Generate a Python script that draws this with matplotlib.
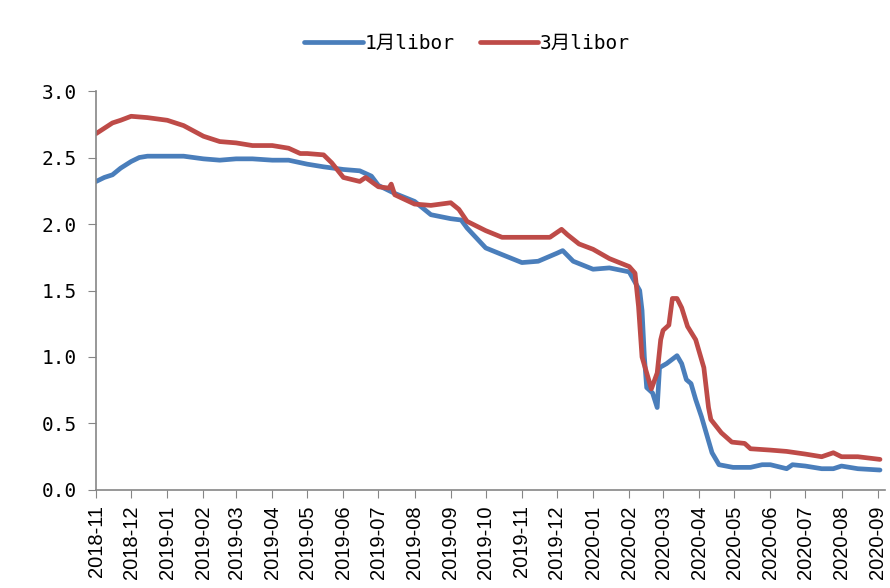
"""1-month vs 3-month USD LIBOR, 2018-11 to 2020-09 (line chart)."""

import matplotlib

matplotlib.use("Agg")
import matplotlib.dates as mdates
import matplotlib.pyplot as plt
import pandas as pd

# values (percent)
dates_1m = [
    "2018-11-01", "2018-11-08", "2018-11-15", "2018-11-22", "2018-12-01", "2018-12-08",
    "2018-12-15", "2019-01-01", "2019-01-15", "2019-02-01", "2019-02-15", "2019-03-01",
    "2019-03-15", "2019-04-01", "2019-04-15", "2019-05-01", "2019-05-15", "2019-06-01",
    "2019-06-15", "2019-06-25", "2019-07-01", "2019-07-15", "2019-08-01", "2019-08-15",
    "2019-09-01", "2019-09-10", "2019-09-15", "2019-10-01", "2019-10-15", "2019-11-01",
    "2019-11-15", "2019-12-01", "2019-12-06", "2019-12-15", "2020-01-01", "2020-01-15",
    "2020-02-01", "2020-02-10", "2020-02-12", "2020-02-14", "2020-02-16", "2020-02-21",
    "2020-02-25", "2020-02-27", "2020-03-04", "2020-03-13", "2020-03-17", "2020-03-21",
    "2020-03-25", "2020-03-29", "2020-04-03", "2020-04-07", "2020-04-12", "2020-04-18",
    "2020-04-30", "2020-05-15", "2020-05-25", "2020-06-01", "2020-06-15", "2020-06-20",
    "2020-07-01", "2020-07-15", "2020-07-25", "2020-08-01", "2020-08-15", "2020-09-03",
]
libor_1m = [
    2.32, 2.35, 2.37, 2.42, 2.47, 2.50,
    2.51, 2.51, 2.51, 2.49, 2.48, 2.49,
    2.49, 2.48, 2.48, 2.45, 2.43, 2.41,
    2.40, 2.36, 2.29, 2.23, 2.17, 2.07,
    2.04, 2.03, 1.97, 1.82, 1.77, 1.71,
    1.72, 1.78, 1.80, 1.72, 1.66, 1.67,
    1.64, 1.50, 1.35, 1.00, 0.77, 0.73,
    0.62, 0.92, 0.95, 1.01, 0.95, 0.83,
    0.80, 0.68, 0.55, 0.43, 0.28, 0.19,
    0.17, 0.17, 0.19, 0.19, 0.16, 0.19,
    0.18, 0.16, 0.16, 0.18, 0.16, 0.15,
]

dates_3m = [
    "2018-11-01", "2018-11-08", "2018-11-15", "2018-11-22", "2018-12-01", "2018-12-15",
    "2019-01-01", "2019-01-15", "2019-02-01", "2019-02-15", "2019-03-01", "2019-03-15",
    "2019-04-01", "2019-04-15", "2019-04-25", "2019-05-01", "2019-05-15", "2019-05-22",
    "2019-06-01", "2019-06-15", "2019-06-20", "2019-07-01", "2019-07-10", "2019-07-12",
    "2019-07-15", "2019-08-01", "2019-08-15", "2019-09-01", "2019-09-08", "2019-09-15",
    "2019-10-01", "2019-10-15", "2019-11-01", "2019-11-15", "2019-11-25", "2019-12-05",
    "2019-12-10", "2019-12-20", "2020-01-01", "2020-01-15", "2020-02-01", "2020-02-06",
    "2020-02-09", "2020-02-12", "2020-02-16", "2020-02-20", "2020-02-25", "2020-02-28",
    "2020-03-01", "2020-03-06", "2020-03-09", "2020-03-13", "2020-03-17", "2020-03-22",
    "2020-03-29", "2020-04-05", "2020-04-09", "2020-04-11", "2020-04-20", "2020-04-29",
    "2020-05-10", "2020-05-15", "2020-06-01", "2020-06-15", "2020-07-01", "2020-07-15",
    "2020-07-25", "2020-08-01", "2020-08-15", "2020-09-03",
]
libor_3m = [
    2.68, 2.72, 2.76, 2.78, 2.81, 2.80,
    2.78, 2.74, 2.66, 2.62, 2.61, 2.59,
    2.59, 2.57, 2.53, 2.53, 2.52, 2.46,
    2.35, 2.32, 2.35, 2.28, 2.27, 2.30,
    2.22, 2.15, 2.14, 2.16, 2.11, 2.02,
    1.95, 1.90, 1.90, 1.90, 1.90, 1.96,
    1.92, 1.85, 1.81, 1.74, 1.68, 1.63,
    1.38, 1.00, 0.88, 0.76, 0.88, 1.13,
    1.20, 1.24, 1.44, 1.44, 1.37, 1.23,
    1.13, 0.92, 0.62, 0.53, 0.43, 0.36,
    0.35, 0.31, 0.30, 0.29, 0.27, 0.25,
    0.28, 0.25, 0.25, 0.23,
]

GRAY = "#868686"
MONO_CJK = ["DejaVu Sans Mono", "Noto Sans CJK SC"]


def main() -> None:
    fig = plt.figure(figsize=(8.9, 5.88), dpi=100)
    ax = fig.add_axes([0.108, 0.1667, 0.886, 0.6785])

    ax.plot(pd.to_datetime(dates_1m), libor_1m, color="#4a7ebb", lw=3.4,
            solid_capstyle="round", label="1月libor")
    ax.plot(pd.to_datetime(dates_3m), libor_3m, color="#be4b48", lw=3.4,
            solid_capstyle="round", label="3月libor")

    ax.set_ylim(0, 3.0)
    ax.set_yticks([0, 0.5, 1.0, 1.5, 2.0, 2.5, 3.0])
    ax.set_yticklabels([f"{v:.1f}" for v in ax.get_yticks()], family=MONO_CJK, fontsize=14)
    ax.set_xlim(pd.Timestamp("2018-11-01"), pd.Timestamp("2020-09-07"))
    ax.xaxis.set_major_locator(mdates.MonthLocator())
    ax.xaxis.set_major_formatter(mdates.DateFormatter("%Y-%m"))
    for lab in ax.get_xticklabels():
        lab.set_family("Liberation Sans")
    ax.tick_params(axis="x", rotation=90, labelsize=14.5, length=6, color=GRAY, pad=5)
    ax.tick_params(axis="y", length=6, color=GRAY, pad=8)

    for side in ("top", "right"):
        ax.spines[side].set_visible(False)
    for side in ("left", "bottom"):
        ax.spines[side].set_color(GRAY)
        ax.spines[side].set_linewidth(1.2)

    fig.legend(loc="center", bbox_to_anchor=(0.525, 0.927), ncol=2, frameon=False,
               prop={"family": MONO_CJK, "size": 14}, handlelength=3.0,
               handletextpad=0.1, columnspacing=1.3)

    fig.savefig("out.png", dpi=100)


if __name__ == "__main__":
    main()
